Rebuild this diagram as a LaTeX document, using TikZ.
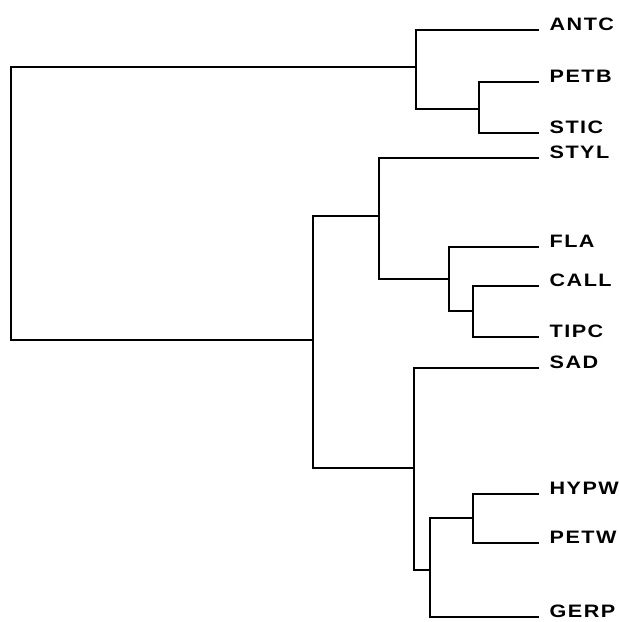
\documentclass[tikz,border=0pt]{standalone}
\usepackage{fontspec}
\newfontfamily\taxafont{Liberation Sans}[FakeStretch=1.2,LetterSpace=8]
\usepackage{tikz}

\begin{document}
\begin{tikzpicture}[x=0.5pt,y=-0.5pt,line width=0.7pt,
    taxon/.style={anchor=base west,inner xsep=5pt,inner ysep=0pt,
        font=\taxafont\bfseries\fontsize{9}{10}\selectfont}]
    \useasboundingbox (0,0) rectangle (619,622);

    % leaves
    \foreach \nm/\lab/\yy in {antc/ANTC/30,petb/PETB/82,stic/STIC/133,
        styl/STYL/158,fla/FLA/247,call/CALL/286,tipc/TIPC/337,
        sad/SAD/368,hypw/HYPW/494,petw/PETW/543,gerp/GERP/617}{
        \node[taxon] (\nm) at (539,\yy) {\lab};
    }

    % internal nodes
    \coordinate (ps) at (479,109);
    \coordinate (ap) at (416,67);
    \coordinate (ct) at (473,311);
    \coordinate (fc) at (449,279);
    \coordinate (sf) at (379,216);
    \coordinate (hp) at (473,518);
    \coordinate (hg) at (430,570);
    \coordinate (sh) at (414,468);
    \coordinate (mid) at (313,340);
    \coordinate (root) at (11,200);

    \draw (petb.base west) -| (ps) |- (stic.base west);
    \draw (antc.base west) -| (ap) |- (ps);
    \draw (call.base west) -| (ct) |- (tipc.base west);
    \draw (fla.base west) -| (fc) |- (ct);
    \draw (styl.base west) -| (sf) |- (fc);
    \draw (hypw.base west) -| (hp) |- (petw.base west);
    \draw (hp) -| (hg) |- (gerp.base west);
    \draw (sad.base west) -| (sh) |- (hg);
    \draw (sf) -| (mid) |- (sh);
    \draw (ap) -| (root) |- (mid);
\end{tikzpicture}
\end{document}
